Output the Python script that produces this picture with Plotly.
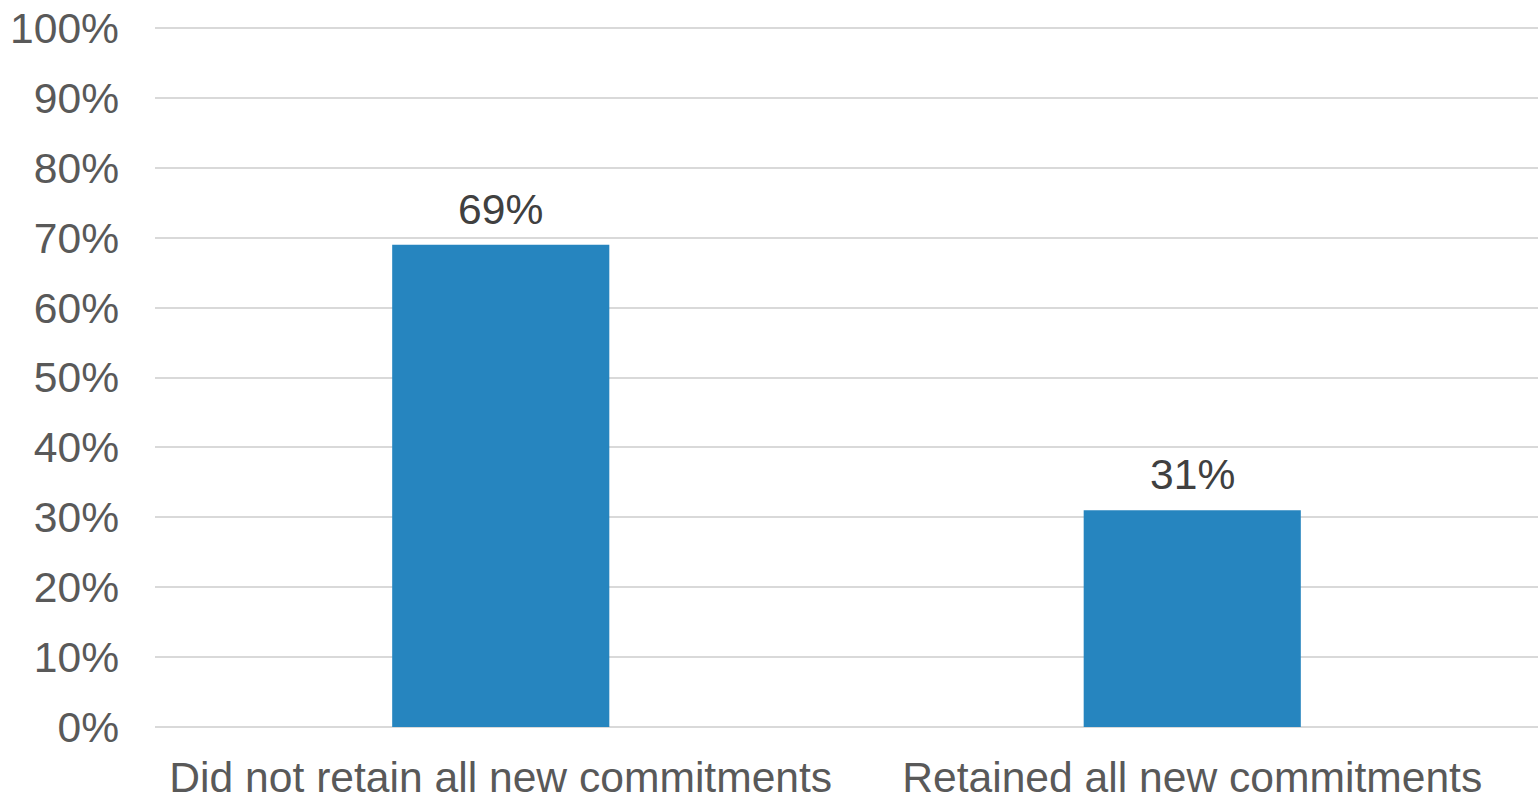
import plotly.graph_objects as go

categories = ["Did not retain all new commitments", "Retained all new commitments"]
values = [0.69, 0.31]
tick_vals = [i / 10 for i in range(11)]
tick_text = [f"{i*10}%" for i in range(11)]

FONT = "Liberation Sans, Arial"
FS = 42.6

fig = go.Figure(go.Bar(
    x=categories, y=values,
    marker=dict(color="#2685BF", line=dict(width=0)),
    cliponaxis=False,
    hoverinfo="skip",
))
for c, v in zip(categories, values):
    fig.add_annotation(
        x=c, y=v, text=f"{round(v*100)}%", showarrow=False,
        yanchor="middle", yshift=36,
        font=dict(family=FONT, size=FS, color="#404040"),
    )
fig.update_layout(
    width=1538, height=796,
    margin=dict(l=155, r=0, t=27, b=69),
    paper_bgcolor="white", plot_bgcolor="white",
    bargap=0.686,
    showlegend=False,
    font=dict(family=FONT, size=FS, color="#595959"),
)
fig.update_yaxes(
    range=[0, 1.0015], tickvals=tick_vals, ticktext=tick_text,
    showgrid=True, gridcolor="#D9D9D9", gridwidth=2,
    zeroline=True, zerolinecolor="#D9D9D9", zerolinewidth=2,
    ticks="", ticklabelstandoff=35, automargin=False,
    tickfont=dict(family=FONT, size=FS, color="#595959"),
)
fig.update_xaxes(
    showline=False, ticks="", ticklabelstandoff=21, automargin=False,
    tickfont=dict(family=FONT, size=FS, color="#595959"),
)
fig.write_html(
    "out.html",
    config={"displayModeBar": False},
    post_script="document.body.style.margin='0';document.body.style.overflow='hidden';",
)
